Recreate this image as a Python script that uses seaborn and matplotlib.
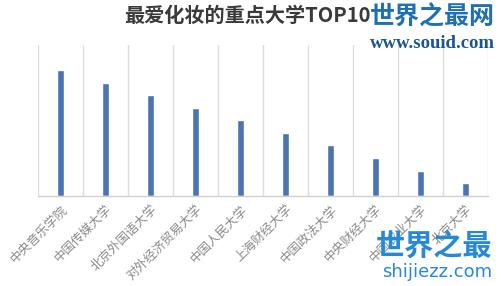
import matplotlib
matplotlib.use("Agg")
import matplotlib.pyplot as plt
import seaborn as sns
import pandas as pd
import numpy as np

categories = ["中央音乐学院", "中国传媒大学", "北京外国语大学", "对外经济贸易大学", "中国人民大学",
              "上海财经大学", "中国政法大学", "中央财经大学", "中国农业大学", "北京大学"]
values = [10, 9, 8, 7, 6, 5, 4, 3, 2, 1]
title = "最爱化妆的重点大学TOP10"

sns.set_theme(style="white")
plt.rcParams['font.family'] = ['Noto Sans CJK SC', 'DejaVu Sans']

df = pd.DataFrame({"cat": categories, "val": values})

fig = plt.figure(figsize=(5.02, 2.86), dpi=100)
ax = fig.add_axes([38/502, 1 - 195.7/286, 450/502, (195.7 - 45)/286])
sns.barplot(data=df, x="cat", y="val", color="#4b74b0", width=0.17, ax=ax, saturation=1)
ax.set_ylim(0, 12)
ax.set_xlim(-0.5, len(categories) - 0.5)
ax.set_xlabel("")
ax.set_ylabel("")
ax.set_yticks([])
for s in ["top", "right", "left"]:
    ax.spines[s].set_visible(False)
ax.spines["bottom"].set_color("#d0d0d0")
ax.spines["bottom"].set_linewidth(1)
for b in np.arange(-0.5, len(categories), 1.0):
    ax.axvline(b, color="#dcdcdc", lw=1, zorder=0)
ax.set_xticks(range(len(categories)))
ax.set_xticklabels(categories, rotation=45, ha="right", rotation_mode="anchor",
                   fontsize=9, color="#8a8a8a")
ax.tick_params(axis="x", length=0, pad=5)

fig.text(0.492, 1 - 15/286, title, ha="center", va="center", fontsize=14.5,
         fontweight="bold", color="#3a3a3a")

# watermarks
fig.text(495/502, 1 - 17/286, "世界之最网", ha="right", va="center", fontsize=18,
         fontweight="bold", color="#1f6fb5")
fig.text(495/502, 1 - 44/286, "www.souid.com", ha="right", va="center", fontsize=13.5,
         fontweight="bold", color="#1b5592", family=["Liberation Serif"])
fig.text(492/502, 1 - 246/286, "世界之最", ha="right", va="center", fontsize=21,
         fontweight="heavy", color="#2589d8")
fig.text(492/502, 1 - 272/286, "shijiezz.com", ha="right", va="center", fontsize=13,
         color="#2589d8", family=["DejaVu Sans"])

fig.savefig("out.png", dpi=100, facecolor="white")
